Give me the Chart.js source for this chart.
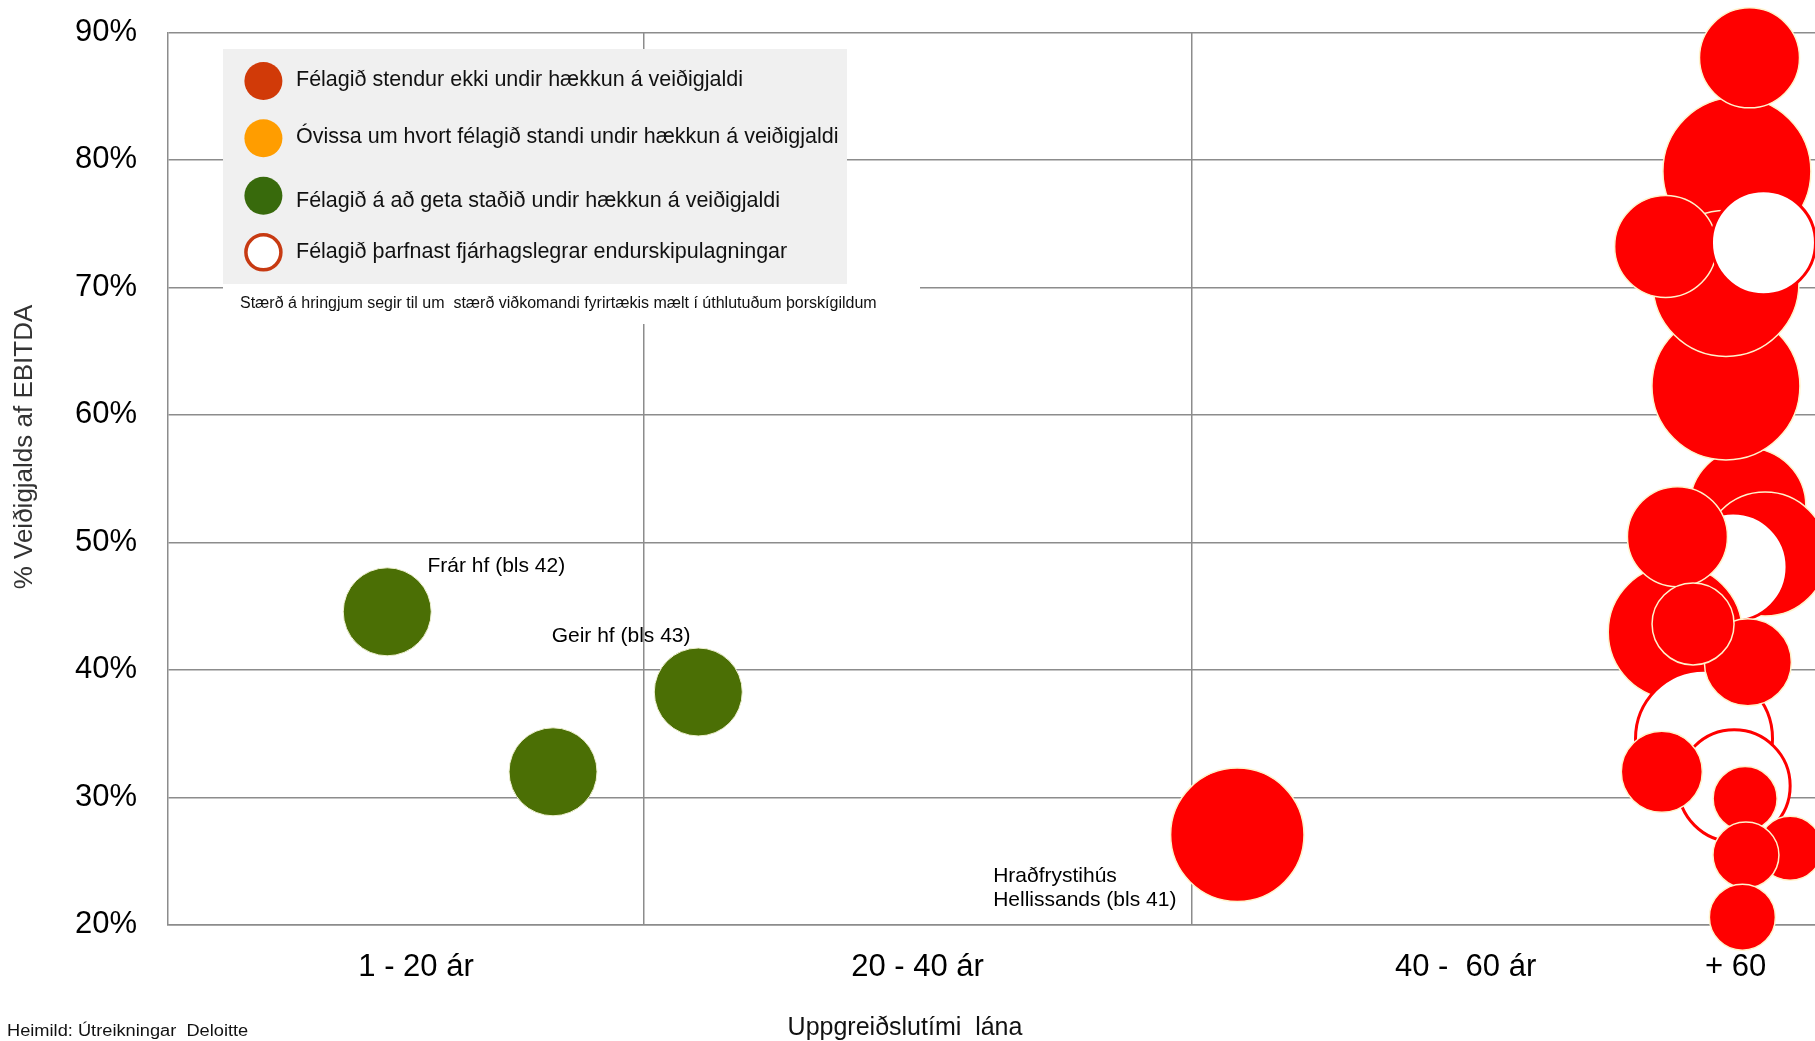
<!DOCTYPE html>
<html lang="is">
<head>
<meta charset="utf-8">
<title>Veiðigjald sem hlutfall af EBITDA</title>
<script src="https://cdn.jsdelivr.net/npm/chart.js@4.4.1/dist/chart.umd.min.js"></script>
<style>
  html, body { margin: 0; padding: 0; background: #fff; }
  #chart { display: block; }
</style>
</head>
<body>
<canvas id="chart" width="1815" height="1041"></canvas>
<script>
// x: uppgreiðslutími lána (ár), y: % veiðigjalds af EBITDA, size: stærð í þorskígildum (radíus)
const xTickValues = [11.7, 30, 50, 59.85];
const xTickLabels = ['1 - 20 ár', '20 - 40 ár', '40 -  60 ár', '+ 60'];
const xGridValues = [20, 40];
const yTickValues = [20, 30, 40, 50, 60, 70, 80, 90];

// listed in drawing order (later ones sit on top)
const companyYears = [10.65, 16.7, 22.0, 41.67,
  60.3, 59.5, 59.9, 59.5, 60.36, 57.3, 60.87, 60.93, 59.76,
  57.65, 57.73, 58.7, 59.8, 60.3, 58.3, 57.16, 60.2, 61.84, 60.23, 60.1];
const companyShare = [44.55, 32.0, 38.26, 27.06,
  52.85, 62.26, 79.1, 70.3, 88.0, 73.2, 73.5, 49.08, 48.06,
  42.96, 50.44, 34.6, 30.9, 40.6, 43.6, 32.0, 29.9, 26.0, 25.47, 20.6];
const companySize = [44, 44, 44, 66.7,
  58, 74, 74, 73, 50, 51, 52, 62, 54,
  67, 50, 68.5, 56, 43.5, 41, 40.5, 32, 32, 33, 33];
const companyStatus = ['getur', 'getur', 'getur', 'ekki',
  'ekki', 'ekki', 'ekki', 'ekki', 'ekki', 'ekki', 'endursk', 'ekki', 'endursk',
  'ekki', 'ekki', 'endursk', 'endursk', 'ekki', 'ekki', 'ekki', 'ekki', 'ekki', 'ekki', 'ekki'];

const bubbleLabelTexts = ['Frár hf (bls 42)', 'Geir hf (bls 43)', 'Hraðfrystihús', 'Hellissands (bls 41)'];
const bubbleLabelX = [12.12, 16.65, 32.76, 32.76];
const bubbleLabelY = [48.16, 42.67, 23.83, 21.9];

const legendLabels = [
  'Félagið stendur ekki undir hækkun á veiðigjaldi',
  'Óvissa um hvort félagið standi undir hækkun á veiðigjaldi',
  'Félagið á að geta staðið undir hækkun á veiðigjaldi',
  'Félagið þarfnast fjárhagslegrar endurskipulagningar',
];
const legendNote = 'Stærð á hringjum segir til um  stærð viðkomandi fyrirtækis mælt í úthlutuðum þorskígildum';

const statusFill = { ekki: '#ff0000', getur: '#4b6f05', endursk: '#ffffff' };
const statusBorder = { ekki: '#fff3cc', getur: '#eef0d0', endursk: '#ff0000' };
const statusBorderWidth = { ekki: 1.5, getur: 1, endursk: 3 };
const legendFill = ['#d13a08', '#ff9d00', '#386a0c', '#ffffff'];
const legendStroke = [null, null, null, '#c73a12'];

const FONT = '"Liberation Sans", Arial, sans-serif';
const GRID = '#8c8c8c';

const overlayPlugin = {
  id: 'overlay',
  afterDraw(chart) {
    const { ctx } = chart;
    const xs = chart.scales.x;
    const ys = chart.scales.y;
    ctx.save();

    // labels next to bubbles
    ctx.fillStyle = '#000';
    ctx.font = '21px ' + FONT;
    ctx.textAlign = 'left';
    ctx.textBaseline = 'middle';
    bubbleLabelTexts.forEach((t, i) => {
      ctx.fillText(t, xs.getPixelForValue(bubbleLabelX[i]), ys.getPixelForValue(bubbleLabelY[i]));
    });

    // legend box
    ctx.fillStyle = '#f0f0f0';
    ctx.fillRect(223, 49, 624, 235);
    ctx.fillStyle = '#fff';
    ctx.fillRect(223, 284, 697, 40);
    const markerY = [81, 138.3, 195.7, 252.3];
    const textY = [80, 137, 201, 252];
    legendLabels.forEach((t, i) => {
      ctx.beginPath();
      ctx.arc(263.4, markerY[i], legendStroke[i] ? 17.5 : 19, 0, Math.PI * 2);
      ctx.fillStyle = legendFill[i];
      ctx.fill();
      if (legendStroke[i]) {
        ctx.lineWidth = 3.5;
        ctx.strokeStyle = legendStroke[i];
        ctx.stroke();
      }
      ctx.fillStyle = '#111';
      ctx.font = '21.5px ' + FONT;
      ctx.fillText(t, 296, textY[i]);
    });
    ctx.font = '16px ' + FONT;
    ctx.fillText(legendNote, 240, 304);

    // axis titles and source
    ctx.font = '25px ' + FONT;
    ctx.textAlign = 'center';
    ctx.textBaseline = 'alphabetic';
    ctx.fillText('Uppgreiðslutími  lána', 905, 1035);

    ctx.save();
    ctx.translate(25, 447);
    ctx.rotate(-Math.PI / 2);
    ctx.fillStyle = '#333';
    ctx.font = '26px ' + FONT;
    ctx.textBaseline = 'middle';
    ctx.fillText('% Veiðigjalds af EBITDA', 0, 0);
    ctx.restore();

    ctx.save();
    ctx.translate(7, 1036);
    ctx.scale(1.14, 1);
    ctx.font = '16px ' + FONT;
    ctx.textAlign = 'left';
    ctx.fillStyle = '#111';
    ctx.fillText('Heimild: Útreikningar  Deloitte', 0, 0);
    ctx.restore();

    ctx.restore();
  },
};

new Chart(document.getElementById('chart'), {
  type: 'bubble',
  data: {
    datasets: [{
      label: 'Fyrirtæki',
      data: companyYears.map((v, i) => ({ x: v, y: companyShare[i], r: companySize[i] })),
      backgroundColor: companyStatus.map((s) => statusFill[s]),
      borderColor: companyStatus.map((s) => statusBorder[s]),
      borderWidth: companyStatus.map((s) => statusBorderWidth[s]),
      clip: false,
    }],
  },
  options: {
    responsive: false,
    animation: false,
    events: [],
    layout: { autoPadding: false, padding: { top: 32.3, right: 0, bottom: 0, left: 0 } },
    plugins: {
      legend: { display: false },
      tooltip: { enabled: false },
    },
    scales: {
      x: {
        type: 'linear',
        min: 2.65,
        max: 62.75,
        afterBuildTicks: (scale) => {
          scale.ticks = [...xGridValues, ...xTickValues].sort((a, b) => a - b).map((v) => ({ value: v }));
        },
        afterFit: (scale) => {
          scale.height = 116.2;
          scale.paddingLeft = 0;
          scale.paddingRight = 0;
        },
        ticks: {
          autoSkip: false,
          maxRotation: 0,
          padding: 24,
          color: '#000',
          font: { family: FONT, size: 31 },
          callback: (v) => {
            const i = xTickValues.indexOf(v);
            return i >= 0 ? xTickLabels[i] : '';
          },
        },
        grid: {
          drawTicks: false,
          lineWidth: 1.5,
          color: (c) => (c.tick && xGridValues.includes(c.tick.value) ? GRID : 'rgba(0,0,0,0)'),
        },
        border: { color: GRID, width: 1.5 },
      },
      y: {
        min: 20,
        max: 90,
        afterBuildTicks: (scale) => {
          scale.ticks = yTickValues.map((v) => ({ value: v }));
        },
        afterFit: (scale) => {
          scale.width = 168;
          scale.paddingTop = 0;
          scale.paddingBottom = 0;
        },
        ticks: {
          padding: 31,
          color: '#000',
          font: { family: FONT, size: 31 },
          callback: (v) => v + '%',
        },
        grid: { drawTicks: false, lineWidth: 1.5, color: GRID },
        border: { color: GRID, width: 1.5 },
      },
    },
  },
  plugins: [overlayPlugin],
});
</script>
</body>
</html>
